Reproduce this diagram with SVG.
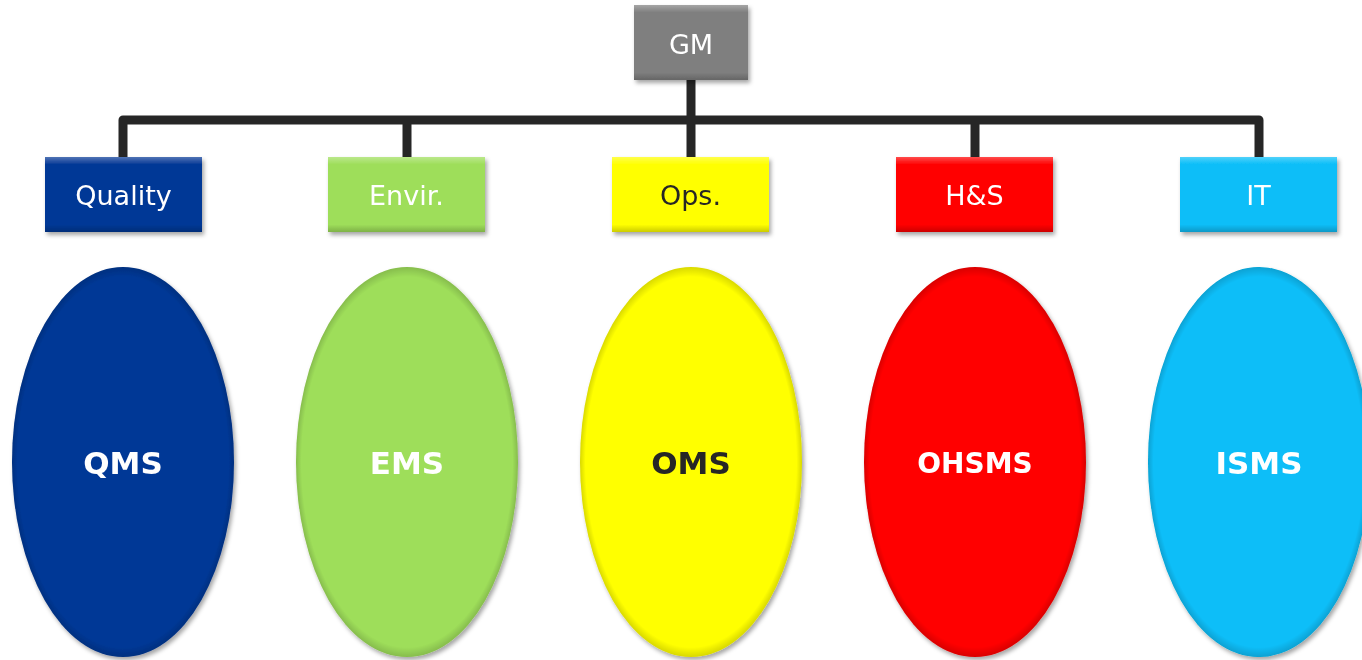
<svg xmlns="http://www.w3.org/2000/svg" width="1362" height="660" viewBox="0 0 1362 660">
<defs>
<filter id="sh" x="-10%" y="-10%" width="130%" height="130%">
<feDropShadow dx="2" dy="3" stdDeviation="2" flood-color="#000" flood-opacity="0.35"/>
</filter>
<linearGradient id="bev" x1="0" y1="0" x2="0" y2="1">
<stop offset="0" stop-color="#fff" stop-opacity="0.3"/>
<stop offset="0.1" stop-color="#fff" stop-opacity="0"/>
<stop offset="0.9" stop-color="#000" stop-opacity="0"/>
<stop offset="1" stop-color="#000" stop-opacity="0.2"/>
</linearGradient>
<radialGradient id="ebev" cx="0.5" cy="0.5" r="0.5">
<stop offset="0.95" stop-color="#000" stop-opacity="0"/>
<stop offset="1" stop-color="#000" stop-opacity="0.15"/>
</radialGradient>
</defs>
<style>
.lbl{font-family:"DejaVu Sans",Verdana,sans-serif;font-size:27px;text-anchor:middle;dominant-baseline:central}
.big{font-family:"DejaVu Sans",Verdana,sans-serif;font-size:31px;font-weight:bold;text-anchor:middle;dominant-baseline:central}
.conn{fill:none;stroke:#262626;stroke-width:9;stroke-linejoin:round}
</style>
<g id="connectors">
<path class="conn" d="M691 80 V120"/>
<path class="conn" d="M123 157 V120 H1259 V157"/>
<path class="conn" d="M407 157 V120 M691 157 V120 M975 157 V120"/>
</g>
<g id="gm" filter="url(#sh)">
<rect x="634" y="5" width="114" height="75" fill="#7f7f7f"/>
<rect x="634" y="5" width="114" height="75" fill="url(#bev)"/>
<text class="lbl" x="691" y="44" fill="#fff">GM</text>
</g>
<g id="quality" filter="url(#sh)">
<rect x="45" y="157" width="157" height="75" fill="#063896"/>
<rect x="45" y="157" width="157" height="75" fill="url(#bev)"/>
<text class="lbl" x="123.5" y="195" fill="#fff">Quality</text>
</g>
<g id="envir" filter="url(#sh)">
<rect x="328" y="157" width="157" height="75" fill="#9ede5a"/>
<rect x="328" y="157" width="157" height="75" fill="url(#bev)"/>
<text class="lbl" x="406.5" y="195" fill="#fff">Envir.</text>
</g>
<g id="ops" filter="url(#sh)">
<rect x="612" y="157" width="157" height="75" fill="#ffff00"/>
<rect x="612" y="157" width="157" height="75" fill="url(#bev)"/>
<text class="lbl" x="690.5" y="195" fill="#262626">Ops.</text>
</g>
<g id="hs" filter="url(#sh)">
<rect x="896" y="157" width="157" height="75" fill="#ff0000"/>
<rect x="896" y="157" width="157" height="75" fill="url(#bev)"/>
<text class="lbl" x="974.5" y="195" fill="#fff">H&amp;S</text>
</g>
<g id="it" filter="url(#sh)">
<rect x="1180" y="157" width="157" height="75" fill="#08bef8"/>
<rect x="1180" y="157" width="157" height="75" fill="url(#bev)"/>
<text class="lbl" x="1258.5" y="195" fill="#fff">IT</text>
</g>
<g id="qms" filter="url(#sh)">
<ellipse cx="123" cy="462" rx="111" ry="195" fill="#063896"/>
<ellipse cx="123" cy="462" rx="111" ry="195" fill="url(#ebev)"/>
<text class="big" x="123" y="463" fill="#fff">QMS</text>
</g>
<g id="ems" filter="url(#sh)">
<ellipse cx="407" cy="462" rx="111" ry="195" fill="#9ede5a"/>
<ellipse cx="407" cy="462" rx="111" ry="195" fill="url(#ebev)"/>
<text class="big" x="407" y="463" fill="#fff">EMS</text>
</g>
<g id="oms" filter="url(#sh)">
<ellipse cx="691" cy="462" rx="111" ry="195" fill="#ffff00"/>
<ellipse cx="691" cy="462" rx="111" ry="195" fill="url(#ebev)"/>
<text class="big" x="691" y="463" fill="#262626">OMS</text>
</g>
<g id="ohsms" filter="url(#sh)">
<ellipse cx="975" cy="462" rx="111" ry="195" fill="#ff0000"/>
<ellipse cx="975" cy="462" rx="111" ry="195" fill="url(#ebev)"/>
<text class="big" x="975" y="463" fill="#fff" style="font-size:28px">OHSMS</text>
</g>
<g id="isms" filter="url(#sh)">
<ellipse cx="1259" cy="462" rx="111" ry="195" fill="#08bef8"/>
<ellipse cx="1259" cy="462" rx="111" ry="195" fill="url(#ebev)"/>
<text class="big" x="1259" y="463" fill="#fff">ISMS</text>
</g>
</svg>
